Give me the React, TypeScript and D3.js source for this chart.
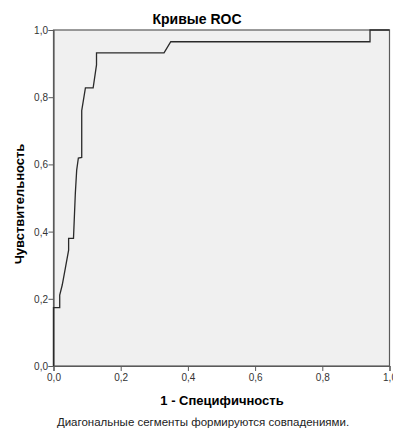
import * as d3 from "d3";
import { useEffect, useRef } from "react";

// ROC curve points (1 - specificity, sensitivity)
const fpr = [0, 0, 0.0185, 0.0185, 0.026, 0.035, 0.045, 0.045, 0.0595, 0.065, 0.069, 0.074, 0.084, 0.084, 0.095, 0.118, 0.128, 0.128, 0.329, 0.349, 0.942, 0.942, 1];
const tpr = [0, 0.1735, 0.1735, 0.211, 0.241, 0.29, 0.345, 0.38, 0.38, 0.514, 0.583, 0.619, 0.621, 0.76, 0.828, 0.828, 0.896, 0.932, 0.932, 0.965, 0.965, 1, 1];
const ticks = [0, 0.2, 0.4, 0.6, 0.8, 1.0];

const title = "Кривые ROC";
const xTitle = "1 - Специфичность";
const yTitle = "Чувствительность";
const footnote = "Диагональные сегменты формируются совпадениями.";

const W = 393;
const H = 432;
const margin = { top: 30, right: 3.5, bottom: 66, left: 53.5 };
const FONT = "Arial, 'Liberation Sans', sans-serif";

const fmt = (v: number) => v.toFixed(1).replace(".", ",");

const App: React.FC = () => {
    const svgRef = useRef<SVGSVGElement | null>(null);

    useEffect(() => {
        const svg = d3.select(svgRef.current);
        svg.selectAll("*").remove();

        const x = d3.scaleLinear().domain([0, 1]).range([margin.left, W - margin.right]);
        const y = d3.scaleLinear().domain([0, 1]).range([H - margin.bottom, margin.top]);

        // background + frame
        svg.append("rect")
            .attr("x", x(0)).attr("y", y(1))
            .attr("width", x(1) - x(0)).attr("height", y(0) - y(1))
            .attr("fill", "#f0f0f0")
            .attr("stroke", "#5a5a5a")
            .attr("stroke-width", 1.2);

        // y axis
        const yAxis = svg.append("g")
            .attr("transform", `translate(${x(0)},0)`)
            .call(d3.axisLeft(y).tickValues(ticks).tickSize(5).tickFormat((d) => fmt(+d)));
        yAxis.select(".domain").attr("stroke", "#5a5a5a").attr("stroke-width", 1.2);
        yAxis.selectAll("line").attr("stroke", "#5a5a5a");
        yAxis.selectAll("text")
            .attr("font-family", FONT).attr("font-size", 10).attr("fill", "#333")
            .attr("x", -5.5).attr("dy", "0.35em");

        // x axis
        const xAxis = svg.append("g")
            .attr("transform", `translate(0,${y(0)})`)
            .call(d3.axisBottom(x).tickValues(ticks).tickSize(5).tickFormat((d) => fmt(+d)));
        xAxis.select(".domain").attr("stroke", "#5a5a5a").attr("stroke-width", 1.2);
        xAxis.selectAll("line").attr("stroke", "#5a5a5a");
        xAxis.selectAll("text")
            .attr("font-family", FONT).attr("font-size", 10).attr("fill", "#333")
            .attr("y", 8).attr("dy", "0.71em");

        // ROC curve
        const line = d3.line<number>()
            .x((_, i) => x(fpr[i]))
            .y((d) => y(d));
        svg.append("path")
            .datum(tpr)
            .attr("d", line)
            .attr("fill", "none")
            .attr("stroke", "#2a2a2a")
            .attr("stroke-width", 1.3);

        // texts
        svg.append("text")
            .attr("x", 197).attr("y", 24)
            .attr("text-anchor", "middle")
            .attr("font-family", FONT).attr("font-size", 14).attr("font-weight", "bold")
            .text(title);

        svg.append("text")
            .attr("x", 222).attr("y", 405)
            .attr("text-anchor", "middle")
            .attr("font-family", FONT).attr("font-size", 13).attr("font-weight", "bold")
            .text(xTitle);

        svg.append("text")
            .attr("transform", `translate(24,204) rotate(-90)`)
            .attr("text-anchor", "middle")
            .attr("font-family", FONT).attr("font-size", 13).attr("font-weight", "bold")
            .text(yTitle);

        svg.append("text")
            .attr("x", 203).attr("y", 426)
            .attr("text-anchor", "middle")
            .attr("font-family", FONT).attr("font-size", 11.5).attr("fill", "#222")
            .text(footnote);
    }, []);

    return (
        <svg
            ref={svgRef}
            width={W}
            height={H}
            style={{ position: "absolute", left: 0, top: 0, background: "#fff", display: "block" }}
        ></svg>
    );
};

export default App;
